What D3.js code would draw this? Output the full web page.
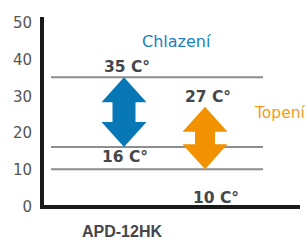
<!DOCTYPE html>
<html>
<head>
<meta charset="utf-8">
<script src="https://cdn.jsdelivr.net/npm/d3@7"></script>
<style>
  body { margin: 0; background: #fff; }
  svg { display: block; font-family: "DejaVu Sans", sans-serif; }
</style>
</head>
<body>
<svg id="chart" width="308" height="242"></svg>
<script>
// modes and their temperature ranges (C°)
let modes = ["Chlazení", "Topení"];
let rangeTop = [35, 27];
let rangeBottom = [16, 10];
let modeColors = ["#0877b5", "#f39200"];
let textColors = ["#1b80c1", "#f59c1a"];
let guideLines = [35, 16, 10];
let yTicks = [0, 10, 20, 30, 40, 50];
let model = "APD-12HK";

var svg = d3.select("#chart");

var y = d3.scaleLinear().domain([0, 50]).range([206, 22]);
var x = d3.scalePoint().domain(modes).range([124, 205]);

// tick labels
svg.append("g")
  .attr("transform", "translate(32,0)")
  .call(d3.axisLeft(y).tickValues(yTicks).tickSize(0).tickPadding(0))
  .call(g => g.select(".domain").remove())
  .selectAll("text")
  .style("font-size", "15px")
  .style("font-family", "DejaVu Sans, sans-serif")
  .attr("fill", "#555")
  .attr("dy", "0.36em");

// gray guide lines
svg.selectAll("line.guide")
  .data(guideLines)
  .join("line")
  .attr("class", "guide")
  .attr("x1", 51)
  .attr("x2", 263)
  .attr("y1", d => y(d))
  .attr("y2", d => y(d))
  .attr("stroke", "#8c8d91")
  .attr("stroke-width", 2);

// double arrow path
function arrow(cx, yt, yb, headW, shaftW, headH) {
  let hw = headW / 2, sw = shaftW / 2;
  return "M" + [
    [cx, yt], [cx + hw, yt + headH], [cx + sw, yt + headH],
    [cx + sw, yb - headH], [cx + hw, yb - headH], [cx, yb],
    [cx - hw, yb - headH], [cx - sw, yb - headH], [cx - sw, yt + headH],
    [cx - hw, yt + headH]
  ].map(p => p.join(",")).join("L") + "Z";
}

modes.forEach((m, i) => {
  svg.append("path")
    .attr("d", arrow(x(m), y(rangeTop[i]), y(rangeBottom[i]), 45, i == 0 ? 23 : 20, 25))
    .attr("fill", modeColors[i]);
});

// value labels
var lbl = svg.append("g")
  .style("font-size", "15.5px")
  .style("font-weight", "700")
  .attr("fill", "#45464a")
  .attr("text-anchor", "middle");

modes.forEach((m, i) => {
  lbl.append("text")
    .attr("x", x(m) + 3)
    .attr("y", y(rangeTop[i]) - 5)
    .text(rangeTop[i] + " C°");
  lbl.append("text")
    .attr("x", x(m) + (i == 0 ? 1 : 11))
    .attr("y", i == 0 ? y(rangeBottom[i]) + 15 : y(0) - 3)
    .text(rangeBottom[i] + " C°");
});

// mode names
svg.append("text")
  .attr("x", 142).attr("y", 47)
  .attr("fill", textColors[0])
  .style("font-size", "16px")
  .text(modes[0]);
svg.append("text")
  .attr("x", 255).attr("y", 118)
  .attr("fill", textColors[1])
  .style("font-size", "15.5px")
  .text(modes[1]);

// axes
svg.append("line")
  .attr("x1", 42).attr("x2", 42)
  .attr("y1", 17).attr("y2", y(0) + 3)
  .attr("stroke", "#1a1a1a").attr("stroke-width", 4);
svg.append("line")
  .attr("x1", 40).attr("x2", 300)
  .attr("y1", y(0) + 1).attr("y2", y(0) + 1)
  .attr("stroke", "#1a1a1a").attr("stroke-width", 4);

// category label
svg.append("text")
  .attr("x", 122).attr("y", 237)
  .attr("text-anchor", "middle")
  .attr("fill", "#45464a")
  .style("font-family", "Liberation Sans, Arial, sans-serif")
  .style("font-size", "16px")
  .style("font-weight", "700")
  .text(model);
</script>
</body>
</html>
